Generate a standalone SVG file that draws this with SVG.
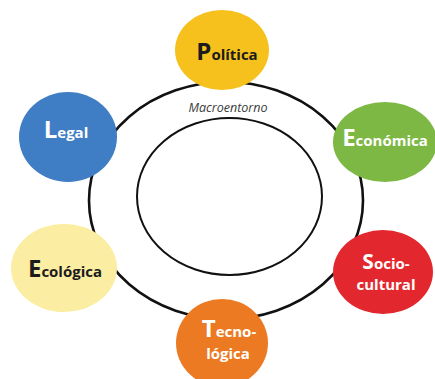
<svg xmlns="http://www.w3.org/2000/svg" width="435" height="379" viewBox="0 0 435 379">
  <style>
    .ring { fill: none; stroke: #111; }
    .lbl { font-family: "Open Sans", "Liberation Sans", sans-serif; font-weight: 700; font-size: 15px; text-anchor: middle; }
    .cap { font-size: 24px; }
    .dark { fill: #1b1b1b; }
    .light { fill: #ffffff; }
    .macro { font-family: "Open Sans", "Liberation Sans", sans-serif; font-style: italic; font-size: 12.5px; fill: #3a3a3a; text-anchor: middle; }
  </style>
  <rect width="435" height="379" fill="#ffffff"/>

  <!-- environment rings -->
  <g id="connectors">
    <ellipse class="ring" cx="226" cy="200.5" rx="137" ry="118.5" stroke-width="2.6"/>
    <ellipse class="ring" cx="229.5" cy="196.5" rx="92.5" ry="78.5" stroke-width="2"/>
    <text class="macro" x="228" y="112">Macroentorno</text>
  </g>

  <g id="politica">
    <ellipse cx="222" cy="50" rx="47" ry="40" fill="#F6C11D"/>
    <text class="lbl dark" x="227" y="60"><tspan class="cap">P</tspan>olítica</text>
  </g>

  <g id="legal">
    <ellipse cx="68" cy="137" rx="49" ry="45" fill="#3F7DC4"/>
    <text class="lbl light" x="66" y="138"><tspan class="cap">L</tspan>egal</text>
  </g>

  <g id="economica">
    <ellipse cx="385" cy="142" rx="52" ry="40" fill="#7CB843"/>
    <text class="lbl light" x="385" y="146"><tspan class="cap">E</tspan>conómica</text>
  </g>

  <g id="ecologica">
    <ellipse cx="64" cy="268" rx="53" ry="44" fill="#FBEEA2"/>
    <text class="lbl dark" x="65" y="277"><tspan class="cap">E</tspan>cológica</text>
  </g>

  <g id="sociocultural">
    <ellipse cx="383" cy="272" rx="50" ry="42" fill="#E2282E"/>
    <text class="lbl light" x="386" y="269"><tspan class="cap" style="font-size:21px">S</tspan>ocio-</text>
    <text class="lbl light" x="386" y="290">cultural</text>
  </g>

  <g id="tecnologica">
    <ellipse cx="222" cy="343" rx="46" ry="44" fill="#EC7A22"/>
    <text class="lbl light" x="229" y="337"><tspan class="cap">T</tspan>ecno-</text>
    <text class="lbl light" x="228" y="359">lógica</text>
  </g>
</svg>
